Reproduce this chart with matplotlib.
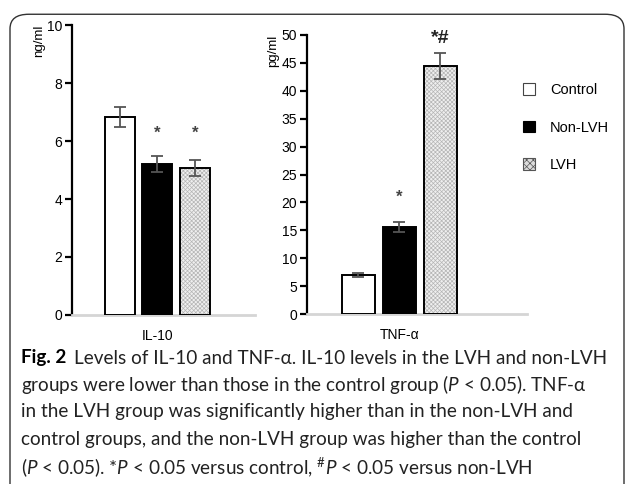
import matplotlib
matplotlib.use("Agg")
import matplotlib.pyplot as plt
from matplotlib.patches import Patch, FancyBboxPatch
import numpy as np

groups = ["Control", "Non-LVH", "LVH"]
il10_mean = [6.83, 5.2, 5.07]
il10_err = [0.35, 0.27, 0.27]
tnf_mean = [7.0, 15.6, 44.5]
tnf_err = [0.3, 0.9, 2.3]
il10_marks = ["", "*", "*"]
tnf_marks = ["", "*", "*#"]

plt.rcParams['font.family'] = ['Liberation Sans', 'DejaVu Sans']
plt.rcParams['mathtext.fontset'] = 'custom'
plt.rcParams['mathtext.rm'] = 'Lato'
plt.rcParams['mathtext.it'] = 'Lato:italic'
plt.rcParams['hatch.linewidth'] = 0.5

fig = plt.figure(figsize=(6.27, 4.84), dpi=100)

faces = ["white", "black", "#efefef"]
hatches = [None, None, "xxxxxxxx"]


def panel(ax, means, errs, marks, label, unit, ymax, step, mark_y, mark_size, unit_x):
    x = np.arange(len(means))
    for i in range(len(means)):
        if hatches[i]:
            ax.bar(x[i], means[i], 0.8, color=faces[i], edgecolor="#b5b5b5",
                   hatch=hatches[i], linewidth=0, zorder=2)
            ax.bar(x[i], means[i], 0.8, fill=False, edgecolor="black",
                   linewidth=1.4, zorder=3)
        else:
            ax.bar(x[i], means[i], 0.8, color=faces[i], edgecolor="black",
                   linewidth=1.4, zorder=3)
    ax.errorbar(x, means, yerr=errs, fmt="none", ecolor="#555555",
                elinewidth=1.3, capsize=4, capthick=1.3, zorder=4)
    for i, m in enumerate(marks):
        if m:
            ax.text(x[i], mark_y[i], m, ha="center", va="center",
                    fontsize=mark_size[i], fontweight="bold",
                    color="#444444" if m == "*" else "#222222")
    ax.set_ylim(0, ymax)
    ax.set_yticks(np.arange(0, ymax + 0.1, step))
    ax.set_xticks([1])
    ax.set_xticklabels([label], fontsize=10)
    ax.tick_params(axis="x", length=0, pad=10)
    ax.tick_params(axis="y", length=5, width=1.6, labelsize=10, pad=2)
    for s in ["top", "right"]:
        ax.spines[s].set_visible(False)
    ax.spines["left"].set_linewidth(1.6)
    ax.spines["bottom"].set_color("#d5d5d5")
    ax.spines["bottom"].set_linewidth(2)
    ax.text(unit_x, 1.0, unit, transform=ax.transAxes, rotation=90,
            ha="center", va="top", fontsize=9.5)


ax1 = fig.add_axes([0.1148, 0.3492, 0.2919, 0.5991])
panel(ax1, il10_mean, il10_err, il10_marks, "IL-10", "ng/ml", 10, 2,
      [0, 6.25, 6.25], [0, 12, 12], -0.18)
ax1.set_xlim(-1.28, 3.6)

ax2 = fig.add_axes([0.4896, 0.3512, 0.3509, 0.5765])
panel(ax2, tnf_mean, tnf_err, tnf_marks, "TNF-α", "pg/ml", 50, 5,
      [0, 21.0, 49.3], [0, 12, 14], -0.152)
ax2.set_xlim(-1.24, 4.1)

handles = [
    Patch(facecolor="white", edgecolor="#444444", linewidth=0.8),
    Patch(facecolor="black", edgecolor="black", linewidth=0.8),
    Patch(facecolor="#dcdcdc", edgecolor="#555555", hatch="xxxxx", linewidth=0.8),
]
fig.legend(handles, groups, loc="upper left", bbox_to_anchor=(0.813, 0.855),
           frameon=False, fontsize=10.5, handlelength=0.85, handleheight=0.85,
           labelspacing=1.6, handletextpad=1.0)

# rounded frame
frame = FancyBboxPatch((10 / 627, -0.05), 614 / 627, 1.035 - 7 / 484,
                       boxstyle="round,pad=0,rounding_size=0.03",
                       transform=fig.transFigure, fill=False,
                       edgecolor="#333333", linewidth=1.0)
fig.add_artist(frame)

cap_size = 13.6
cap_lines = [
    "Levels of IL-10 and TNF-α. IL-10 levels in the LVH and non-LVH",
    r"groups were lower than those in the control group ($\mathit{P}$ < 0.05). TNF-α",
    "in the LVH group was significantly higher than in the non-LVH and",
    "control groups, and the non-LVH group was higher than the control",
    r"($\mathit{P}$ < 0.05). *$\mathit{P}$ < 0.05 versus control, $^{\#}\mathit{P}$ < 0.05 versus non-LVH",
]
x0 = 21 / 627
ys = [358, 385, 412, 440, 467]
bold = fig.text(x0, 1 - ys[0] / 484, "Fig. 2", fontsize=cap_size,
                fontweight="bold", family="Lato", va="center")
fig.canvas.draw()
bb = bold.get_window_extent(fig.canvas.get_renderer())
xs = [(bb.x1 + 8) / 627] + [x0] * 4
for xx, y, line in zip(xs, ys, cap_lines):
    fig.text(xx, 1 - y / 484, line, fontsize=cap_size, family="Lato",
             va="center", color="#222222")

fig.savefig("out.png", dpi=100)
